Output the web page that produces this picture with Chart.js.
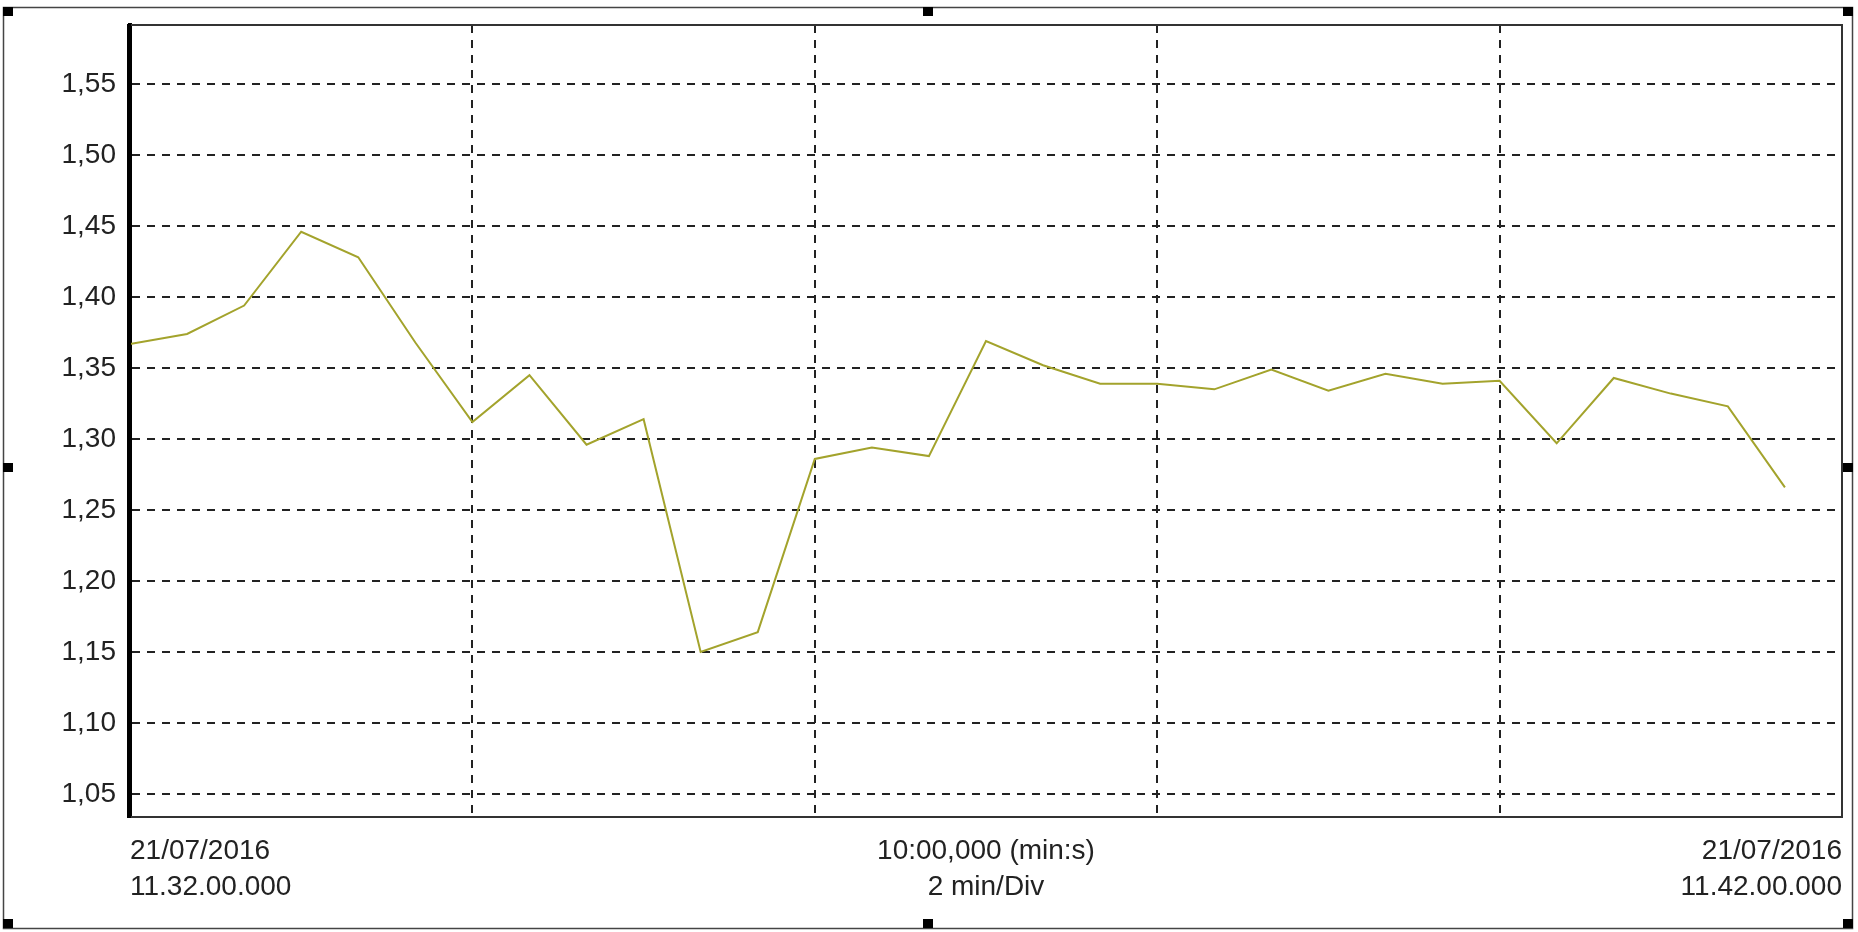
<!DOCTYPE html>
<html>
<head>
<meta charset="utf-8">
<script src="https://cdn.jsdelivr.net/npm/chart.js@4"></script>
<style>
  body { margin: 0; background: #fff; }
</style>
</head>
<body>
<canvas id="trendChart" width="1858" height="932"></canvas>
<script>
// sample times in seconds from 11.32.00.000
const times = [0, 20, 40, 60, 80, 100, 120, 140, 160, 180, 200, 220, 240, 260, 280,
  300, 320, 340, 360, 380, 400, 420, 440, 460, 480, 500, 520, 540, 560, 580];
const values = [1.367, 1.374, 1.394, 1.446, 1.428, 1.368, 1.312, 1.345, 1.296, 1.314,
  1.150, 1.164, 1.286, 1.294, 1.288, 1.369, 1.352, 1.339, 1.339, 1.335,
  1.349, 1.334, 1.346, 1.339, 1.341, 1.297, 1.343, 1.332, 1.323, 1.266];
const yTicks = [1.05, 1.10, 1.15, 1.20, 1.25, 1.30, 1.35, 1.40, 1.45, 1.50, 1.55];
const xTicks = [0, 120, 240, 300, 360, 480, 600];
const xLabels = {
  0: ["21/07/2016", "11.32.00.000"],
  300: ["10:00,000 (min:s)", "2 min/Div"],
  600: ["21/07/2016", "11.42.00.000"],
};

const textFont = { family: "'Liberation Sans', Arial, sans-serif", size: 28, lineHeight: 1.3 };

// frame round the plot and the outer window with its handles
const framePlugin = {
  id: "frame",
  afterDraw(chart) {
    const c = chart.ctx;
    const a = chart.chartArea;
    c.save();
    c.strokeStyle = "#333";
    c.lineWidth = 2;
    c.strokeRect(a.left, a.top, a.right - a.left, a.bottom - a.top);
    c.fillStyle = "#000";
    c.fillRect(a.left - 3, a.top - 1, 4, a.bottom - a.top + 2);

    c.strokeStyle = "#444";
    c.lineWidth = 1.5;
    c.strokeRect(3.5, 7.5, 1849, 921);
    c.fillStyle = "#000";
    [3, 923, 1843].forEach(function (x) {
      [7, 463, 919].forEach(function (y) {
        if (x === 923 && y === 463) return;
        c.fillRect(x, y, 10, 9);
      });
    });
    c.restore();
  },
};

var ctx = document.getElementById("trendChart");
var trendChart = new Chart(ctx, {
  type: "line",
  data: {
    datasets: [
      {
        data: times.map((t, i) => ({ x: t, y: values[i] })),
        borderColor: "#a3a32c",
        borderWidth: 2,
        pointRadius: 0,
        tension: 0,
        fill: false,
      },
    ],
  },
  options: {
    responsive: false,
    animation: false,
    layout: { padding: { top: 25, right: 16, left: 0, bottom: 0 } },
    plugins: {
      legend: { display: false },
      tooltip: { enabled: false },
    },
    scales: {
      x: {
        type: "linear",
        min: 0,
        max: 600,
        afterBuildTicks: (axis) => { axis.ticks = xTicks.map((v) => ({ value: v })); },
        afterFit: (axis) => { axis.height = 115; axis.paddingLeft = 0; axis.paddingRight = 0; },
        grid: {
          drawTicks: false,
          lineWidth: 2,
          color: (c) => (c.tick && [0, 300, 600].includes(c.tick.value) ? "rgba(0,0,0,0)" : "#222"),
        },
        border: { display: true, color: "#333", width: 2, dash: [8, 7] },
        ticks: {
          autoSkip: false,
          maxRotation: 0,
          align: "inner",
          padding: 16,
          color: "#222",
          font: textFont,
          callback: (v) => xLabels[v] || "",
        },
      },
      y: {
        min: 1.0338,
        max: 1.5916,
        afterBuildTicks: (axis) => { axis.ticks = yTicks.map((v) => ({ value: v })); },
        afterFit: (axis) => { axis.width = 130; axis.paddingTop = 0; axis.paddingBottom = 0; },
        grid: {
          drawTicks: false,
          lineWidth: 2,
          color: "#222",
        },
        border: { display: true, color: "#000", width: 4, dash: [8, 7] },
        ticks: {
          padding: 14,
          color: "#222",
          font: textFont,
          callback: (v) => v.toFixed(2).replace(".", ","),
        },
      },
    },
  },
  plugins: [framePlugin],
});
</script>
</body>
</html>
